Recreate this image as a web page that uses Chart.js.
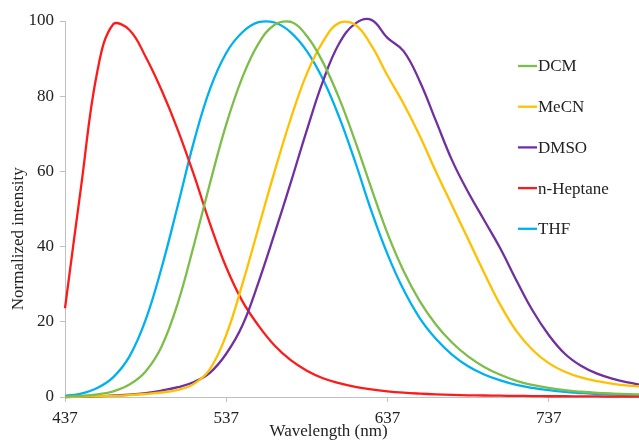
<!DOCTYPE html>
<html>
<head>
<meta charset="utf-8">
<script src="https://cdn.jsdelivr.net/npm/chart.js@4.4.1/dist/chart.umd.min.js"></script>
<style>
html,body{margin:0;padding:0;background:#fff;}
#wrap{width:639px;height:442px;position:relative;}
</style>
</head>
<body>
<div id="wrap"><canvas id="c" width="639" height="442"></canvas></div>
<script>
const xTicks = [437, 537, 637, 737];
const seriesNames = ["DCM", "MeCN", "DMSO", "n-Heptane", "THF"];

// wavelengths (nm)
const wavelengths = [437,447,457,467,477,487,497,507,517,527,537,547,557,567,577,587,597,607,617,627,637,647,657,667,677,687,697,707,717,727,737,747,757,767,777,787,793];

const dcmY   = [0.1,0.3,0.7,1.5,3.3,6.8,13.5,25,40.5,57,72.5,85,94,99,99.8,96,89,79.5,68,55.5,43.5,33.5,25.5,19.3,14.5,10.8,8,5.9,4.3,3.2,2.4,1.8,1.4,1.1,0.9,0.75,0.7];
const mecnY  = [0,0.1,0.2,0.3,0.5,0.8,1.2,1.9,3.5,7.5,16.5,30,45,60,74,86,94.5,99.5,99,93.5,85.5,78,69.5,60,51,42,33,24.5,17.5,12.5,9,6.7,5.2,4.2,3.5,3,2.8];
const dmsoY  = [0,0.1,0.2,0.4,0.6,1,1.7,2.6,4,6.5,11.5,19,30.5,43.5,57,71,84,94,99.3,100.3,95.5,92,84,73.5,63,54.5,47,39.5,31,23,16.5,11.5,8.3,6.2,4.8,3.8,3.3];
const heptY  = [23.6,56,86.5,99.2,97.6,90.5,81.5,71,59,46,34.5,25.5,19,13.7,9.8,7,5,3.7,2.7,2,1.5,1.15,0.9,0.7,0.55,0.45,0.4,0.35,0.3,0.25,0.2,0.2,0.15,0.15,0.1,0.1,0.1];
const thfY   = [0.3,0.9,2.4,5.3,10.8,20.5,34.5,51,68,82,91.5,97,99.7,99.6,97,92,84.5,74.5,62.5,49.5,38,28.5,21,15.5,11.3,8.2,6,4.4,3.2,2.4,1.8,1.35,1.05,0.8,0.65,0.55,0.5];

const colors = ["#7dbd4a", "#ffc000", "#7030a0", "#ff1a1a", "#00b0f0"];

function pts(ys){ return wavelengths.map((x,i)=>({x:x, y:ys[i]})); }
const allY = [dcmY, mecnY, dmsoY, heptY, thfY];

const datasets = seriesNames.map((n,i)=>({
  label: n,
  data: pts(allY[i]),
  borderColor: colors[i],
  backgroundColor: colors[i],
  borderWidth: 2.3,
  pointRadius: 0,
  tension: 0.4,
  clip: false,
  fill: false
}));
const FONT = "'Liberation Serif', 'Times New Roman', serif";

const legendPlugin = {
  id: 'customLegend',
  afterDraw(chart){
    const ctx = chart.ctx;
    ctx.save();
    ctx.font = "17px " + FONT;
    ctx.textBaseline = 'middle';
    ctx.textAlign = 'left';
    chart.data.datasets.forEach((ds,i)=>{
      const y = 66 + i*40.7;
      ctx.strokeStyle = ds.borderColor;
      ctx.lineWidth = 2.3;
      ctx.beginPath();
      ctx.moveTo(518, y);
      ctx.lineTo(537, y);
      ctx.stroke();
      ctx.fillStyle = '#222';
      ctx.fillText(ds.label, 538, y+1);
    });
    ctx.restore();
  }
};

Chart.defaults.font.family = FONT;
new Chart(document.getElementById('c'), {
  type: 'line',
  data: { datasets: datasets },
  options: {
    responsive: false,
    animation: false,
    layout: { padding: { top: 21, right: 0, left: 0, bottom: 0 } },
    plugins: { legend: { display: false }, tooltip: { enabled: false } },
    scales: {
      x: {
        type: 'linear',
        min: 437, max: 793,
        afterBuildTicks: (s)=>{ s.ticks = xTicks.map(v=>({value:v})); },
        afterFit: (s)=>{ s.height = 45; },
        grid: { drawOnChartArea: false, drawTicks: true, tickLength: 5, color: '#bfbfbf', lineWidth: 1 },
        border: { display: true, color: '#bfbfbf', width: 1 },
        ticks: { color: '#222', font: { size: 17 }, padding: 6, maxRotation: 0, autoSkip: false },
        title: { display: true, text: 'Wavelength (nm)' + '\u00a0'.repeat(11), color: '#222', font: { size: 17 }, padding: { top: -2, bottom: 0 } }
      },
      y: {
        min: 0, max: 100,
        ticks: { stepSize: 20, color: '#222', font: { size: 17 }, padding: 6 },
        afterFit: (s)=>{ s.width = 65; },
        grid: { drawOnChartArea: false, drawTicks: true, tickLength: 5, color: '#bfbfbf', lineWidth: 1 },
        border: { display: true, color: '#bfbfbf', width: 1 },
        title: { display: true, text: 'Normalized intensity' + '\u00a0'.repeat(14), color: '#222', font: { size: 17 }, padding: { top: 8, bottom: 0 } }
      }
    }
  },
  plugins: [legendPlugin]
});
</script>
</body>
</html>
